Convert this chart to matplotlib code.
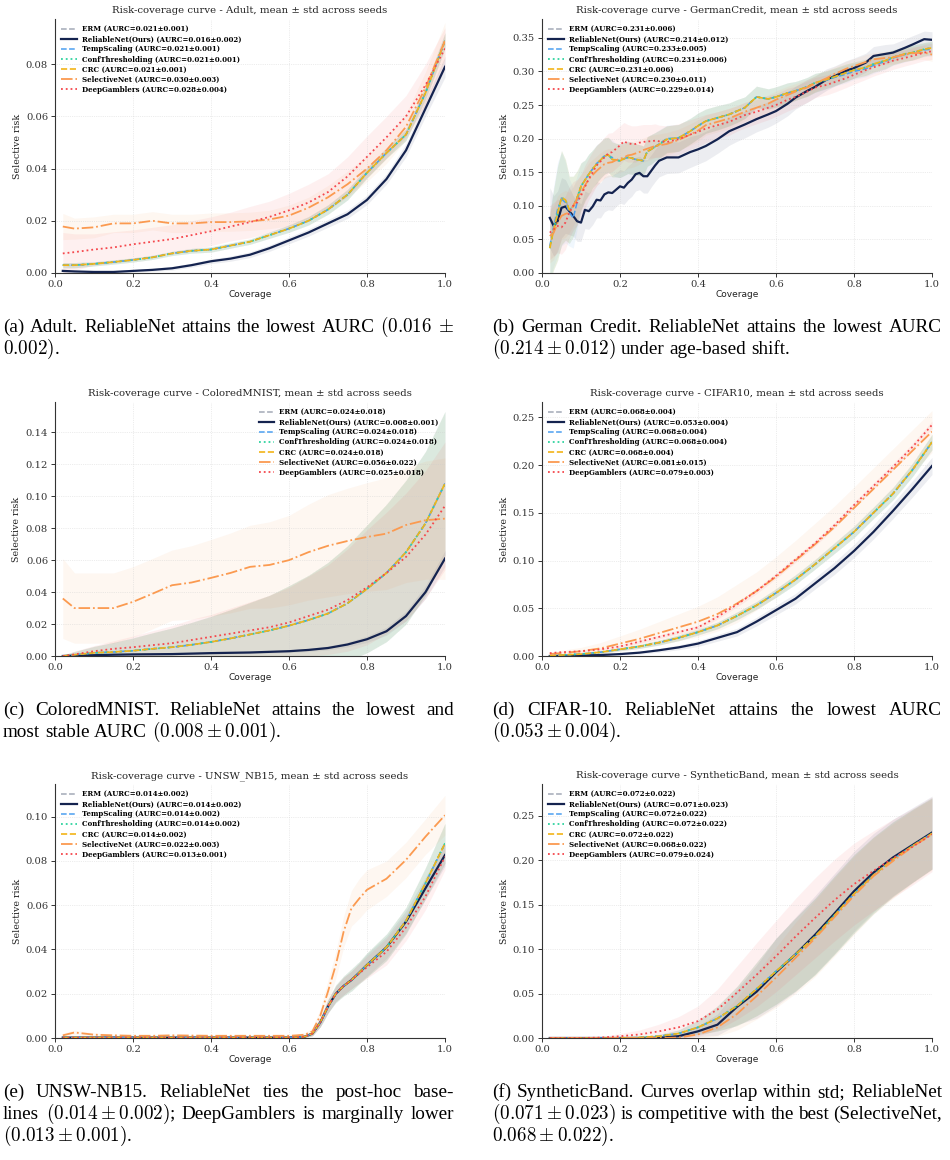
import numpy as np
import matplotlib
matplotlib.use('Agg')
import matplotlib.pyplot as plt

plt.rcParams['font.family'] = 'serif'
plt.rcParams['font.serif'] = ['DejaVu Serif']
plt.rcParams['mathtext.fontset'] = 'cm'

W, H = 950, 1160

# ---------------------------------------------------------------------------
# methods, as in the legend
methods = ['ERM', 'ReliableNet(Ours)', 'TempScaling', 'ConfThresholding',
           'CRC', 'SelectiveNet', 'DeepGamblers']
colors = ['#a3a9b6', '#14234f', '#4c9ff0', '#2fd39f', '#f2b418', '#fb9a50', '#f5474c']
styles = ['--', '-', '--', ':', '--', '-.', ':']
lws = [1.1, 1.6, 1.1, 1.3, 1.2, 1.3, 1.3]

# common coverage grid for most panels
cov = [0.02, 0.05, 0.10, 0.15, 0.20, 0.25, 0.30, 0.35, 0.40, 0.45, 0.50,
       0.55, 0.60, 0.65, 0.70, 0.75, 0.80, 0.85, 0.90, 0.95, 1.00]

# ---------------------------------------------------------------- Adult
adult_rel = [0.0008, 0.0006, 0.0004, 0.0004, 0.0008, 0.0012, 0.0018, 0.003, 0.0045, 0.0055, 0.007,
             0.0095, 0.0125, 0.0155, 0.019, 0.0225, 0.028, 0.036, 0.047, 0.063, 0.079]
adult_rel_sd = [0.0005, 0.0005, 0.0004, 0.0004, 0.0005, 0.0006, 0.0007, 0.0008, 0.0009, 0.001, 0.0011,
                0.0012, 0.0013, 0.0014, 0.0015, 0.0016, 0.0018, 0.002, 0.0025, 0.003, 0.004]
adult_post = [0.003, 0.003, 0.0035, 0.0042, 0.005, 0.006, 0.0075, 0.0085, 0.009, 0.0105, 0.012,
              0.0145, 0.017, 0.020, 0.0243, 0.030, 0.0384, 0.046, 0.053, 0.069, 0.089]
adult_post_sd = [0.001, 0.001, 0.0008, 0.0008, 0.0008, 0.0008, 0.0008, 0.0009, 0.001, 0.001, 0.001,
                 0.0012, 0.0014, 0.0016, 0.0018, 0.002, 0.002, 0.002, 0.0022, 0.0025, 0.003]
adult_sel = [0.0178, 0.017, 0.0175, 0.019, 0.019, 0.020, 0.019, 0.019, 0.0195, 0.0195, 0.0198,
             0.0205, 0.022, 0.025, 0.029, 0.034, 0.040, 0.047, 0.056, 0.071, 0.089]
adult_sel_sd = [0.005, 0.004, 0.004, 0.0035, 0.0035, 0.0035, 0.0035, 0.0035, 0.0035, 0.0035, 0.0035,
                0.0035, 0.004, 0.004, 0.0045, 0.005, 0.005, 0.005, 0.005, 0.006, 0.007]
adult_dg = [0.0075, 0.008, 0.009, 0.0098, 0.011, 0.012, 0.013, 0.0145, 0.016, 0.0178, 0.0195,
            0.0215, 0.024, 0.027, 0.031, 0.037, 0.0445, 0.052, 0.060, 0.072, 0.086]
adult_dg_sd = [0.008, 0.007, 0.006, 0.006, 0.0055, 0.0055, 0.0055, 0.0055, 0.0055, 0.0055, 0.006,
               0.006, 0.0065, 0.007, 0.007, 0.0075, 0.008, 0.008, 0.008, 0.008, 0.008]
adult_aurc = ['0.021±0.001', '0.016±0.002', '0.021±0.001', '0.021±0.001',
              '0.021±0.001', '0.030±0.003', '0.028±0.004']

# ---------------------------------------------------------------- GermanCredit
german_cov = [0.02, 0.03, 0.04, 0.05, 0.06, 0.07, 0.08, 0.09, 0.10, 0.11,
              0.12, 0.13, 0.14, 0.15, 0.16, 0.17, 0.18, 0.19, 0.20, 0.21,
              0.22, 0.23, 0.24, 0.25, 0.26, 0.27, 0.28, 0.29, 0.30, 0.32,
              0.35, 0.38, 0.40, 0.42, 0.45, 0.48, 0.50, 0.52, 0.55, 0.58,
              0.60, 0.63, 0.65, 0.68, 0.70, 0.73, 0.75, 0.78, 0.80, 0.83,
              0.85, 0.88, 0.90, 0.93, 0.95, 0.98, 1.00]
german_rel = [0.082, 0.070, 0.077, 0.097, 0.099, 0.092, 0.085, 0.077, 0.075, 0.094,
              0.092, 0.099, 0.109, 0.108, 0.117, 0.120, 0.119, 0.124, 0.129, 0.127,
              0.134, 0.139, 0.147, 0.149, 0.144, 0.144, 0.152, 0.160, 0.167, 0.172,
              0.172, 0.180, 0.184, 0.189, 0.199, 0.211, 0.216, 0.221, 0.229, 0.236,
              0.241, 0.252, 0.261, 0.271, 0.277, 0.288, 0.293, 0.301, 0.305, 0.313,
              0.323, 0.326, 0.328, 0.335, 0.340, 0.348, 0.347]
german_rel_sd = [0.045, 0.045, 0.045, 0.045, 0.04, 0.035, 0.03, 0.03, 0.028, 0.028,
                 0.027, 0.027, 0.027, 0.026, 0.026, 0.026, 0.026, 0.025, 0.025, 0.025,
                 0.025, 0.025, 0.025, 0.025, 0.025, 0.025, 0.024, 0.024, 0.024, 0.024,
                 0.023, 0.023, 0.022, 0.022, 0.021, 0.021, 0.02, 0.02, 0.019, 0.019,
                 0.018, 0.018, 0.017, 0.017, 0.016, 0.016, 0.015, 0.015, 0.015, 0.014,
                 0.014, 0.014, 0.013, 0.013, 0.013, 0.012, 0.012]
german_post = [0.037, 0.065, 0.089, 0.112, 0.109, 0.094, 0.099, 0.112, 0.129, 0.138,
               0.147, 0.155, 0.162, 0.168, 0.174, 0.176, 0.169, 0.168, 0.167, 0.170,
               0.172, 0.171, 0.169, 0.168, 0.167, 0.181, 0.184, 0.188, 0.191, 0.199,
               0.201, 0.211, 0.219, 0.226, 0.231, 0.236, 0.241, 0.246, 0.262, 0.259,
               0.262, 0.268, 0.271, 0.277, 0.283, 0.288, 0.292, 0.298, 0.302, 0.306,
               0.311, 0.316, 0.321, 0.326, 0.328, 0.333, 0.335]
german_temp = [0.040, 0.070, 0.095, 0.110, 0.105, 0.090, 0.082, 0.105, 0.129, 0.138,
               0.147, 0.155, 0.163, 0.168, 0.174, 0.175, 0.172, 0.168, 0.167, 0.170,
               0.172, 0.171, 0.169, 0.168, 0.167, 0.181, 0.184, 0.188, 0.192, 0.200,
               0.201, 0.211, 0.219, 0.226, 0.231, 0.236, 0.241, 0.246, 0.262, 0.259,
               0.262, 0.268, 0.271, 0.277, 0.283, 0.287, 0.291, 0.296, 0.300, 0.304,
               0.309, 0.315, 0.320, 0.325, 0.328, 0.332, 0.333]
german_post_sd = [0.05, 0.06, 0.07, 0.07, 0.06, 0.05, 0.045, 0.04, 0.035, 0.03,
                  0.03, 0.028, 0.028, 0.027, 0.027, 0.026, 0.026, 0.025, 0.025, 0.025,
                  0.024, 0.024, 0.023, 0.023, 0.022, 0.022, 0.022, 0.021, 0.021, 0.02,
                  0.02, 0.019, 0.019, 0.018, 0.018, 0.017, 0.017, 0.016, 0.016, 0.015,
                  0.015, 0.015, 0.014, 0.014, 0.014, 0.013, 0.013, 0.013, 0.012, 0.012,
                  0.012, 0.012, 0.011, 0.011, 0.011, 0.01, 0.01]
german_sel = [0.055, 0.060, 0.075, 0.085, 0.088, 0.090, 0.100, 0.110, 0.120, 0.130,
              0.140, 0.146, 0.152, 0.157, 0.162, 0.164, 0.165, 0.168, 0.170, 0.172,
              0.175, 0.176, 0.178, 0.180, 0.183, 0.185, 0.187, 0.189, 0.190, 0.192,
              0.198, 0.206, 0.212, 0.220, 0.225, 0.230, 0.235, 0.240, 0.246, 0.252,
              0.258, 0.265, 0.270, 0.276, 0.282, 0.290, 0.296, 0.304, 0.308, 0.314,
              0.318, 0.320, 0.321, 0.325, 0.327, 0.328, 0.325]
german_sel_sd = [0.04, 0.04, 0.04, 0.035, 0.035, 0.03, 0.03, 0.028, 0.026, 0.025,
                 0.024, 0.023, 0.022, 0.022, 0.021, 0.021, 0.02, 0.02, 0.02, 0.02,
                 0.019, 0.019, 0.019, 0.018, 0.018, 0.018, 0.018, 0.017, 0.017, 0.017,
                 0.016, 0.016, 0.016, 0.015, 0.015, 0.015, 0.014, 0.014, 0.014, 0.013,
                 0.013, 0.013, 0.012, 0.012, 0.012, 0.012, 0.011, 0.011, 0.011, 0.011,
                 0.01, 0.01, 0.01, 0.01, 0.01, 0.01, 0.01]
german_dg = [0.060, 0.065, 0.070, 0.068, 0.075, 0.090, 0.100, 0.105, 0.115, 0.128,
             0.140, 0.150, 0.160, 0.166, 0.172, 0.178, 0.180, 0.185, 0.190, 0.196,
             0.193, 0.192, 0.192, 0.194, 0.195, 0.196, 0.196, 0.197, 0.196, 0.195,
             0.199, 0.206, 0.210, 0.215, 0.220, 0.225, 0.230, 0.235, 0.240, 0.246,
             0.250, 0.258, 0.262, 0.270, 0.276, 0.280, 0.284, 0.290, 0.295, 0.302,
             0.306, 0.312, 0.316, 0.320, 0.323, 0.328, 0.330]
german_dg_sd = [0.04, 0.04, 0.04, 0.04, 0.04, 0.038, 0.036, 0.034, 0.032, 0.032,
                0.031, 0.031, 0.03, 0.03, 0.03, 0.03, 0.029, 0.029, 0.029, 0.028,
                0.028, 0.027, 0.027, 0.026, 0.026, 0.025, 0.025, 0.025, 0.024, 0.024,
                0.023, 0.022, 0.022, 0.021, 0.02, 0.02, 0.019, 0.019, 0.018, 0.018,
                0.017, 0.017, 0.016, 0.016, 0.015, 0.015, 0.015, 0.014, 0.014, 0.014,
                0.013, 0.013, 0.013, 0.012, 0.012, 0.012, 0.012]
german_aurc = ['0.231±0.006', '0.214±0.012', '0.233±0.005', '0.231±0.006',
               '0.231±0.006', '0.230±0.011', '0.229±0.014']

# ---------------------------------------------------------------- ColoredMNIST
cmnist_rel = [0.0, 0.0002, 0.0005, 0.0008, 0.001, 0.0011, 0.0012, 0.0015, 0.0018, 0.002, 0.0022,
              0.0026, 0.003, 0.0038, 0.005, 0.0072, 0.0105, 0.0155, 0.025, 0.040, 0.061]
cmnist_rel_sd = [0.0001, 0.0002, 0.0003, 0.0004, 0.0005, 0.0005, 0.0005, 0.0006, 0.0006, 0.0007, 0.0007,
                 0.0008, 0.0009, 0.001, 0.0012, 0.0015, 0.002, 0.0025, 0.003, 0.004, 0.005]
cmnist_post = [0.0, 0.0008, 0.002, 0.0025, 0.0033, 0.0045, 0.0055, 0.007, 0.0088, 0.011, 0.0135,
               0.016, 0.019, 0.0225, 0.0266, 0.033, 0.042, 0.052, 0.065, 0.083, 0.108]
cmnist_post_sd = [0.0005, 0.002, 0.004, 0.006, 0.008, 0.01, 0.012, 0.014, 0.016, 0.018, 0.02,
                  0.022, 0.025, 0.028, 0.032, 0.036, 0.04, 0.043, 0.045, 0.045, 0.045]
cmnist_sel = [0.036, 0.030, 0.030, 0.030, 0.0339, 0.039, 0.0443, 0.046, 0.0489, 0.052, 0.0558,
              0.057, 0.060, 0.065, 0.069, 0.072, 0.0745, 0.0766, 0.082, 0.085, 0.086]
cmnist_sel_sd = [0.025, 0.022, 0.022, 0.022, 0.022, 0.022, 0.022, 0.023, 0.024, 0.025, 0.026,
                 0.027, 0.028, 0.03, 0.032, 0.033, 0.034, 0.035, 0.036, 0.037, 0.038]
cmnist_dg = [0.0, 0.001, 0.003, 0.0045, 0.0055, 0.0068, 0.008, 0.010, 0.012, 0.014, 0.016,
             0.018, 0.021, 0.025, 0.029, 0.035, 0.043, 0.052, 0.062, 0.076, 0.094]
cmnist_dg_sd = [0.0005, 0.002, 0.0035, 0.005, 0.007, 0.009, 0.011, 0.013, 0.014, 0.016, 0.018,
                0.02, 0.022, 0.025, 0.028, 0.032, 0.036, 0.038, 0.04, 0.04, 0.04]
cmnist_aurc = ['0.024±0.018', '0.008±0.001', '0.024±0.018', '0.024±0.018',
               '0.024±0.018', '0.056±0.022', '0.025±0.018']

# ---------------------------------------------------------------- CIFAR10
cifar_rel = [0.0, 0.0003, 0.0005, 0.001, 0.002, 0.0035, 0.006, 0.009, 0.013, 0.019, 0.025,
             0.036, 0.048, 0.060, 0.076, 0.092, 0.110, 0.130, 0.152, 0.175, 0.199]
cifar_rel_sd = [0.0003, 0.0004, 0.0005, 0.0008, 0.001, 0.0015, 0.002, 0.0025, 0.003, 0.0035, 0.004,
                0.0045, 0.005, 0.0055, 0.006, 0.0065, 0.007, 0.0075, 0.008, 0.0085, 0.009]
cifar_post = [0.0, 0.001, 0.002, 0.004, 0.007, 0.010, 0.014, 0.019, 0.025, 0.032, 0.042,
              0.053, 0.066, 0.080, 0.096, 0.113, 0.130, 0.150, 0.170, 0.195, 0.224]
cifar_post_sd = [0.0005, 0.0008, 0.001, 0.0012, 0.0015, 0.002, 0.0025, 0.003, 0.003, 0.0035, 0.004,
                 0.004, 0.0045, 0.005, 0.005, 0.0055, 0.006, 0.006, 0.0065, 0.007, 0.008]
cifar_sel = [0.002, 0.003, 0.005, 0.008, 0.013, 0.018, 0.024, 0.030, 0.036, 0.044, 0.055,
             0.068, 0.083, 0.100, 0.117, 0.135, 0.155, 0.175, 0.195, 0.215, 0.235]
cifar_sel_sd = [0.002, 0.003, 0.004, 0.006, 0.008, 0.01, 0.012, 0.014, 0.016, 0.018, 0.02,
                0.02, 0.021, 0.021, 0.022, 0.022, 0.022, 0.022, 0.022, 0.022, 0.022]
cifar_dg = [0.003, 0.004, 0.005, 0.007, 0.010, 0.015, 0.020, 0.025, 0.030, 0.041, 0.054,
            0.068, 0.084, 0.101, 0.118, 0.137, 0.158, 0.178, 0.198, 0.219, 0.242]
cifar_dg_sd = [0.001, 0.001, 0.0012, 0.0014, 0.0016, 0.0018, 0.002, 0.002, 0.0022, 0.0024, 0.0026,
               0.0028, 0.003, 0.003, 0.003, 0.003, 0.003, 0.0032, 0.0034, 0.0036, 0.004]
cifar_aurc = ['0.068±0.004', '0.053±0.004', '0.068±0.004', '0.068±0.004',
              '0.068±0.004', '0.081±0.015', '0.079±0.003']

# ---------------------------------------------------------------- UNSW_NB15
unsw_cov = [0.02, 0.05, 0.10, 0.15, 0.20, 0.25, 0.30, 0.35, 0.40, 0.45, 0.50, 0.55, 0.60,
            0.62, 0.64, 0.66, 0.68, 0.70, 0.72, 0.74, 0.76, 0.78, 0.80, 0.85, 0.90, 0.95, 1.00]
unsw_rel = [0.0002, 0.0002, 0.0002, 0.0002, 0.0002, 0.0002, 0.0002, 0.0002, 0.0002, 0.0002, 0.0002,
            0.0002, 0.0002, 0.0003, 0.0006, 0.002, 0.007, 0.0143, 0.020, 0.0235, 0.0262, 0.0295,
            0.033, 0.041, 0.0526, 0.0677, 0.0827]
unsw_rel_sd = [0.0001, 0.0001, 0.0001, 0.0001, 0.0001, 0.0001, 0.0001, 0.0001, 0.0001, 0.0001, 0.0001,
               0.0001, 0.0001, 0.0002, 0.0004, 0.001, 0.002, 0.003, 0.0035, 0.004, 0.004, 0.0045,
               0.005, 0.005, 0.005, 0.005, 0.005]
unsw_post = [0.0002, 0.0002, 0.0002, 0.0002, 0.0002, 0.0002, 0.0002, 0.0002, 0.0002, 0.0002, 0.0002,
             0.0002, 0.0002, 0.0003, 0.0006, 0.002, 0.007, 0.0143, 0.020, 0.0235, 0.0262, 0.0295,
             0.033, 0.041, 0.053, 0.070, 0.088]
unsw_post_sd = [0.0001, 0.0001, 0.0001, 0.0001, 0.0001, 0.0001, 0.0001, 0.0001, 0.0001, 0.0001, 0.0001,
                0.0001, 0.0001, 0.0002, 0.0004, 0.001, 0.002, 0.003, 0.004, 0.0045, 0.005, 0.005,
                0.0055, 0.006, 0.006, 0.007, 0.009]
unsw_sel = [0.0012, 0.0025, 0.0015, 0.0012, 0.001, 0.001, 0.0012, 0.0011, 0.001, 0.001, 0.001,
            0.001, 0.001, 0.0012, 0.0015, 0.003, 0.010, 0.021, 0.033, 0.048, 0.0586, 0.063,
            0.067, 0.072, 0.0805, 0.091, 0.1007]
unsw_sel_sd = [0.001, 0.001, 0.0008, 0.0006, 0.0005, 0.0005, 0.0005, 0.0005, 0.0005, 0.0005, 0.0005,
               0.0005, 0.0005, 0.0006, 0.0008, 0.0015, 0.003, 0.005, 0.006, 0.007, 0.008, 0.009,
               0.009, 0.008, 0.008, 0.008, 0.009]
unsw_dg = [0.0002, 0.0002, 0.0002, 0.0002, 0.0002, 0.0002, 0.0002, 0.0002, 0.0002, 0.0002, 0.0002,
           0.0002, 0.0002, 0.0003, 0.0006, 0.002, 0.007, 0.0143, 0.020, 0.0235, 0.0262, 0.0292,
           0.032, 0.039, 0.050, 0.064, 0.082]
unsw_dg_sd = [0.0001, 0.0001, 0.0001, 0.0001, 0.0001, 0.0001, 0.0001, 0.0001, 0.0001, 0.0001, 0.0001,
              0.0001, 0.0001, 0.0002, 0.0004, 0.001, 0.002, 0.003, 0.0035, 0.004, 0.004, 0.0045,
              0.005, 0.006, 0.006, 0.006, 0.006]
unsw_aurc = ['0.014±0.002', '0.014±0.002', '0.014±0.002', '0.014±0.002',
             '0.014±0.002', '0.022±0.003', '0.013±0.001']

# ---------------------------------------------------------------- SyntheticBand
synth_rel = [0.0, 0.0, 0.0, 0.0, 0.0, 0.0, 0.0003, 0.002, 0.0075, 0.015, 0.035,
             0.052, 0.074, 0.094, 0.116, 0.140, 0.165, 0.186, 0.203, 0.217, 0.231]
synth_rel_sd = [0.0, 0.0, 0.0, 0.0, 0.0, 0.0, 0.0005, 0.002, 0.006, 0.012, 0.02,
                0.03, 0.038, 0.042, 0.044, 0.045, 0.045, 0.044, 0.043, 0.042, 0.041]
synth_post = [0.0, 0.0, 0.0, 0.0, 0.0, 0.0005, 0.002, 0.005, 0.012, 0.022, 0.036,
              0.055, 0.075, 0.094, 0.114, 0.138, 0.162, 0.183, 0.201, 0.216, 0.230]
synth_post_sd = [0.0, 0.0, 0.0, 0.0, 0.0, 0.0005, 0.002, 0.004, 0.008, 0.014, 0.022,
                 0.03, 0.037, 0.041, 0.043, 0.044, 0.044, 0.043, 0.042, 0.041, 0.040]
synth_sel = [0.0, 0.0, 0.0, 0.0, 0.0, 0.0, 0.0, 0.0005, 0.004, 0.012, 0.027,
             0.047, 0.068, 0.090, 0.112, 0.136, 0.160, 0.182, 0.199, 0.215, 0.229]
synth_sel_sd = [0.0, 0.0, 0.0, 0.0, 0.0, 0.0, 0.0, 0.001, 0.004, 0.01, 0.018,
                0.026, 0.034, 0.04, 0.043, 0.044, 0.044, 0.043, 0.042, 0.041, 0.04]
synth_dg = [0.0, 0.0, 0.0, 0.0005, 0.002, 0.004, 0.0075, 0.012, 0.019, 0.032, 0.051,
            0.071, 0.092, 0.114, 0.135, 0.155, 0.173, 0.188, 0.202, 0.215, 0.229]
synth_dg_sd = [0.0, 0.0, 0.0, 0.001, 0.003, 0.005, 0.008, 0.012, 0.017, 0.023, 0.03,
               0.036, 0.04, 0.043, 0.045, 0.046, 0.046, 0.045, 0.044, 0.043, 0.042]
synth_aurc = ['0.072±0.022', '0.071±0.023', '0.072±0.022', '0.072±0.022',
              '0.072±0.022', '0.068±0.022', '0.079±0.024']

# ---------------------------------------------------------------------------
# panel list: (name, coverage, means, stds, aurc, y max, y step, legend loc)
panels = [
    ('Adult', cov,
     [adult_post, adult_rel, adult_post, adult_post, adult_post, adult_sel, adult_dg],
     [adult_post_sd, adult_rel_sd, adult_post_sd, adult_post_sd, adult_post_sd, adult_sel_sd, adult_dg_sd],
     adult_aurc, 0.0973, 0.02, 'upper left'),
    ('GermanCredit', german_cov,
     [german_post, german_rel, german_temp, german_post, german_post, german_sel, german_dg],
     [german_post_sd, german_rel_sd, german_post_sd, german_post_sd, german_post_sd, german_sel_sd, german_dg_sd],
     german_aurc, 0.378, 0.05, 'upper left'),
    ('ColoredMNIST', cov,
     [cmnist_post, cmnist_rel, cmnist_post, cmnist_post, cmnist_post, cmnist_sel, cmnist_dg],
     [cmnist_post_sd, cmnist_rel_sd, cmnist_post_sd, cmnist_post_sd, cmnist_post_sd, cmnist_sel_sd, cmnist_dg_sd],
     cmnist_aurc, 0.159, 0.02, 'upper right'),
    ('CIFAR10', cov,
     [cifar_post, cifar_rel, cifar_post, cifar_post, cifar_post, cifar_sel, cifar_dg],
     [cifar_post_sd, cifar_rel_sd, cifar_post_sd, cifar_post_sd, cifar_post_sd, cifar_sel_sd, cifar_dg_sd],
     cifar_aurc, 0.266, 0.05, 'upper left'),
    ('UNSW_NB15', unsw_cov,
     [unsw_post, unsw_rel, unsw_post, unsw_post, unsw_post, unsw_sel, unsw_dg],
     [unsw_post_sd, unsw_rel_sd, unsw_post_sd, unsw_post_sd, unsw_post_sd, unsw_sel_sd, unsw_dg_sd],
     unsw_aurc, 0.1148, 0.02, 'upper left'),
    ('SyntheticBand', cov,
     [synth_post, synth_rel, synth_post, synth_post, synth_post, synth_sel, synth_dg],
     [synth_post_sd, synth_rel_sd, synth_post_sd, synth_post_sd, synth_post_sd, synth_sel_sd, synth_dg_sd],
     synth_aurc, 0.2856, 0.05, 'upper left'),
]

# captions (line text, justified?)
captions = [
    [('(a) Adult. ReliableNet attains the lowest AURC $(0.016$ $\\pm$', True),
     ('$0.002)$.', False)],
    [('(b) German Credit. ReliableNet attains the lowest AURC', True),
     ('$(0.214\\pm0.012)$ under age-based shift.', False)],
    [('(c) ColoredMNIST. ReliableNet attains the lowest and', True),
     ('most stable AURC $(0.008\\pm0.001)$.', False)],
    [('(d) CIFAR-10.  ReliableNet attains the lowest AURC', True),
     ('$(0.053\\pm0.004)$.', False)],
    [('(e) UNSW-NB15.  ReliableNet ties the post-hoc base-', True),
     ('lines $(0.014\\pm0.002)$; DeepGamblers is marginally lower', True),
     ('$(0.013\\pm0.001)$.', False)],
    [('(f) SyntheticBand. Curves overlap within std; ReliableNet', True),
     ('$(0.071\\pm0.023)$ is competitive with the best (SelectiveNet,', True),
     ('$0.068\\pm0.022)$.', False)],
]

# layout in pixels
col_x = [(55, 445), (542, 932)]
row_y = [(19, 273), (402, 656), (784, 1038)]
cap_x = [(3, 454), (492, 942)]
cap_base = [332, 715, 1097]
cap_size = 13.8

fig = plt.figure(figsize=(W / 100, H / 100), dpi=100)
renderer = fig.canvas.get_renderer()


def draw_caption_line(x0, x1, yb, line, justify):
    words = [w for w in line.split(' ') if w != '']
    arts = [fig.text(0, 1 - yb / H, w, fontsize=cap_size, family='Liberation Serif',
                     va='baseline', ha='left') for w in words]
    wds = [a.get_window_extent(renderer).width for a in arts]
    gap = 0.25 * cap_size * 100 / 72
    if justify and len(words) > 1:
        gap = max(2.5, (x1 - x0 - sum(wds)) / (len(words) - 1))
    x = x0
    for a, w in zip(arts, wds):
        a.set_x(x / W)
        x += w + gap


for k, (name, xs, means, sds, aurc, ymax, ystep, loc) in enumerate(panels):
    r, c = divmod(k, 2)
    (l, rr), (t, b) = col_x[c], row_y[r]
    ax = fig.add_axes([l / W, 1 - b / H, (rr - l) / W, (b - t) / H])
    x = np.array(xs)
    for i in range(len(methods)):
        m = np.array(means[i])
        s = np.array(sds[i])
        ax.fill_between(x, m - s, m + s, color=colors[i], alpha=0.08, lw=0)
        ax.plot(x, m, styles[i], color=colors[i], lw=lws[i],
                label='%s (AURC=%s)' % (methods[i], aurc[i]))
    ax.set_xlim(0, 1.0)
    ax.set_ylim(0, ymax)
    ax.set_xticks(np.arange(0, 1.01, 0.2))
    ax.set_yticks(np.arange(0, ymax, ystep))
    ax.xaxis.set_major_formatter(matplotlib.ticker.FormatStrFormatter('%.1f'))
    ax.yaxis.set_major_formatter(matplotlib.ticker.FormatStrFormatter('%.2f'))
    ax.tick_params(labelsize=7.2, length=3, width=0.7, pad=2, colors='#333333')
    ax.grid(True, ls=':', lw=0.5, color='#cccccc', alpha=0.7)
    for sp in ['top', 'right']:
        ax.spines[sp].set_visible(False)
    for sp in ['left', 'bottom']:
        ax.spines[sp].set_linewidth(0.8)
        ax.spines[sp].set_color('#333333')
    ax.set_title('Risk-coverage curve - %s, mean ± std across seeds' % name,
                 fontsize=7.3, pad=4, color='#222222')
    ax.set_xlabel('Coverage', fontsize=6.5, family='DejaVu Sans', labelpad=1, color='#222222')
    ax.set_ylabel('Selective risk', fontsize=6.8, labelpad=3, color='#222222')
    ax.legend(loc=loc, frameon=False, prop={'size': 5.0, 'weight': 'bold', 'family': 'DejaVu Serif'},
              handlelength=2.2, labelspacing=0.3, handletextpad=0.8)

    x0, x1 = cap_x[c]
    for j, (line, just) in enumerate(captions[k]):
        draw_caption_line(x0, x1, cap_base[r] + 22 * j, line, just)

fig.savefig('out.png', dpi=100)
plt.close()
